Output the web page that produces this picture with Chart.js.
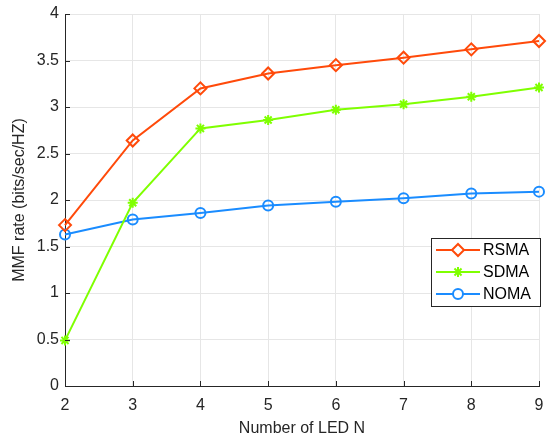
<!DOCTYPE html>
<html>
<head>
<meta charset="utf-8">
<script src="https://cdn.jsdelivr.net/npm/chart.js@4"></script>
<style>
  html, body { margin: 0; padding: 0; background: #fff; }
  #wrap { width: 547px; height: 438px; }
</style>
</head>
<body>
<div id="wrap"><canvas id="chart-line"></canvas></div>
<script>
// data
var ledCount = [2, 3, 4, 5, 6, 7, 8, 9];
var rsmaRate = [1.73, 2.64, 3.20, 3.36, 3.45, 3.53, 3.62, 3.71];
var sdmaRate = [0.49, 1.97, 2.77, 2.86, 2.97, 3.03, 3.11, 3.21];
var nomaRate = [1.63, 1.79, 1.86, 1.94, 1.98, 2.02, 2.07, 2.09];
var yTicks = [0, 0.5, 1, 1.5, 2, 2.5, 3, 3.5, 4];

var FONT = "'Liberation Sans', Arial, sans-serif";
Chart.defaults.font.family = FONT;
Chart.defaults.font.size = 16;
Chart.defaults.color = "#262626";

function toPoints(ys) {
    return ys.map(function(v, i) { return { x: ledCount[i], y: v }; });
}

/* legend box drawn inside the plot area, like matlab's */
var boxLegend = {
    id: "boxLegend",
    afterDatasetsDraw: function(chart) {
        var ctx = chart.ctx;
        var x0 = 431, y0 = 238, w = 109, h = 68;
        ctx.save();
        ctx.fillStyle = "#fff";
        ctx.fillRect(x0, y0, w, h);
        ctx.strokeStyle = "#262626";
        ctx.lineWidth = 1;
        ctx.strokeRect(x0 + 0.5, y0 + 0.5, w, h);
        chart.data.datasets.forEach(function(ds, i) {
            var cy = y0 + 12 + i * 22;
            ctx.strokeStyle = ds.borderColor;
            ctx.lineWidth = 2;
            ctx.beginPath();
            ctx.moveTo(x0 + 5, cy);
            ctx.lineTo(x0 + 49, cy);
            ctx.stroke();
            ctx.fillStyle = "#fff";
            ctx.strokeStyle = ds.borderColor;
            Chart.helpers.drawPoint(ctx, {
                pointStyle: ds.pointStyle,
                radius: ds.pointRadius,
                borderWidth: 2
            }, x0 + 27, cy);
            ctx.fillStyle = "#000";
            ctx.font = "16px " + FONT;
            ctx.textBaseline = "middle";
            ctx.fillText(ds.label, x0 + 52, cy + 1);
        });
        ctx.restore();
    }
};

/* inward tick marks on the left and bottom axes */
var innerTicks = {
    id: "innerTicks",
    afterDraw: function(chart) {
        var ctx = chart.ctx, xs = chart.scales.x, ys = chart.scales.y;
        var a = chart.chartArea;
        ctx.save();
        ctx.strokeStyle = "#262626";
        ctx.lineWidth = 1;
        ctx.beginPath();
        ledCount.forEach(function(v) {
            var px = Math.round(xs.getPixelForValue(v)) + 0.5;
            ctx.moveTo(px, a.bottom);
            ctx.lineTo(px, a.bottom - 5);
        });
        yTicks.forEach(function(v) {
            var py = Math.round(ys.getPixelForValue(v)) + 0.5;
            ctx.moveTo(a.left, py);
            ctx.lineTo(a.left + 5, py);
        });
        ctx.stroke();
        ctx.restore();
    }
};

var ds = function(label, ys, color, style, r) {
    return {
        label: label,
        data: toPoints(ys),
        borderColor: color,
        backgroundColor: "#fff",
        pointBackgroundColor: "rgba(255,255,255,0)",
        pointBorderColor: color,
        pointStyle: style,
        pointRadius: r,
        pointBorderWidth: 2,
        borderWidth: 2,
        tension: 0
    };
};

var ctx = document.getElementById("chart-line");
var myLineChart = new Chart(ctx, {
    type: "line",
    data: {
        datasets: [
            ds("RSMA", rsmaRate, "#ff4a0a", "rectRot", 6),
            ds("SDMA", sdmaRate, "#7fff00", "star", 5),
            ds("NOMA", nomaRate, "#1a8cff", "circle", 5)
        ]
    },
    options: {
        responsive: true,
        maintainAspectRatio: false,
        animation: false,
        clip: false,
        layout: { padding: { top: 14, right: 4, left: 10, bottom: 0 } },
        plugins: {
            legend: { display: false },
            tooltip: { enabled: false }
        },
        scales: {
            x: {
                type: "linear",
                min: 2,
                max: 9,
                border: { color: "#262626", width: 1 },
                grid: { color: "#e6e6e6", drawTicks: false },
                afterBuildTicks: function(axis) {
                    axis.ticks = ledCount.map(function(v) { return { value: v }; });
                },
                afterFit: function(axis) {
                    axis.height = 52;
                    axis.paddingLeft = 0;
                    axis.paddingRight = 0;
                },
                ticks: { padding: 10, callback: function(v) { return String(v); } },
                title: {
                    display: true,
                    text: "Number of LED N",
                    padding: { top: 2, bottom: 0 }
                }
            },
            y: {
                min: 0,
                max: 4,
                border: { color: "#262626", width: 1 },
                grid: { color: "#e6e6e6", drawTicks: false },
                afterBuildTicks: function(axis) {
                    axis.ticks = yTicks.map(function(v) { return { value: v }; });
                },
                afterFit: function(axis) {
                    axis.width = 55;
                    axis.paddingTop = 0;
                    axis.paddingBottom = 0;
                },
                ticks: { padding: 6, callback: function(v) { return String(v); } },
                title: {
                    display: true,
                    text: "MMF rate (bits/sec/HZ)",
                    padding: { top: 0, bottom: 2 }
                }
            }
        }
    },
    plugins: [boxLegend, innerTicks]
});
</script>
</body>
</html>
